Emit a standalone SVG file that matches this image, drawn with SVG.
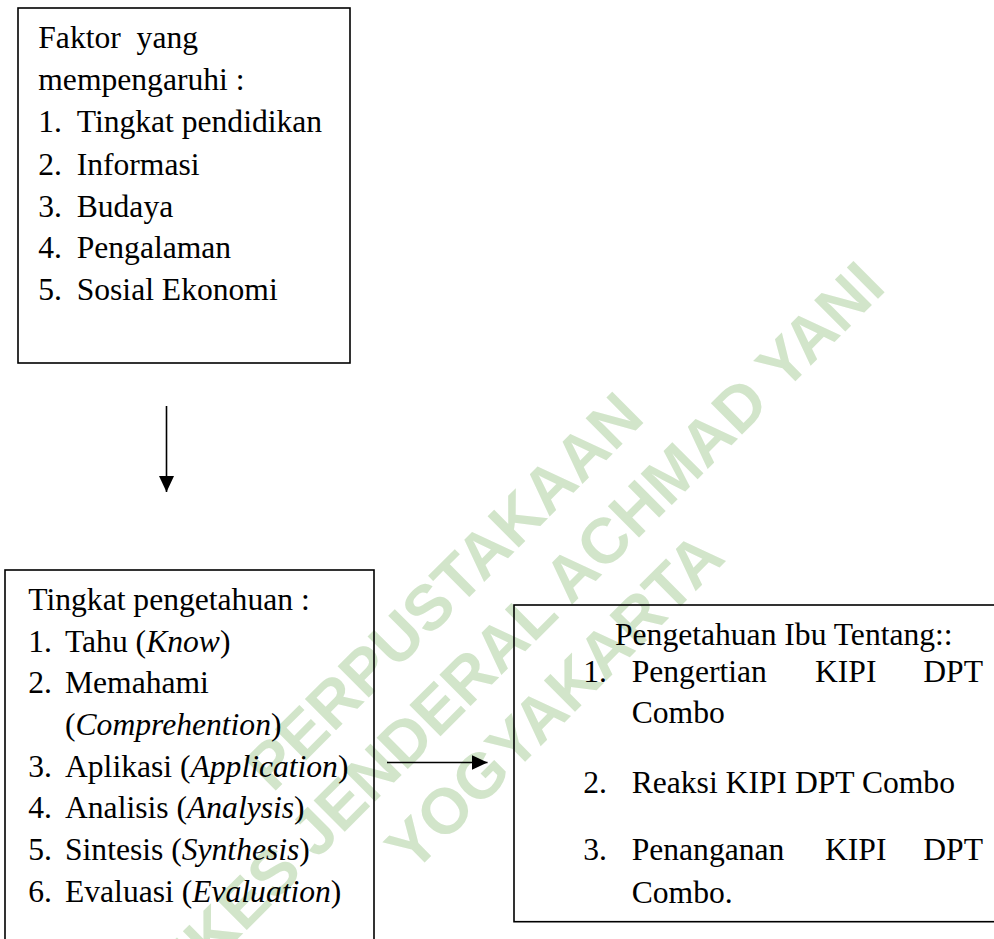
<svg xmlns="http://www.w3.org/2000/svg" width="994" height="939" viewBox="0 0 994 939">
<style>
.box{fill:none;stroke:#000;stroke-width:1.6}
.t{font-family:"Liberation Serif","Times New Roman",serif;font-size:31.6px;fill:#000}
.i{font-style:italic}
.wm{font-family:"Liberation Sans",Arial,sans-serif;font-weight:bold;font-size:64px;fill:#d2e5ca;text-anchor:middle}
.ln{stroke:#000;stroke-width:1.6;fill:none}
</style>
<defs>
<marker id="ah" viewBox="0 0 16 15" refX="16" refY="7.5" markerWidth="16" markerHeight="15" markerUnits="userSpaceOnUse" orient="auto">
<path d="M0,0 L16,7.5 L0,15 Z" fill="#000"/>
</marker>
</defs>
<rect width="994" height="939" fill="#fff"/>
<g id="watermark" transform="rotate(-45)">
<text class="wm" x="-104" y="754">PERPUSTAKAAN</text>
<text class="wm" x="-105" y="832">STIKES JENDERAL ACHMAD YANI</text>
<text class="wm" x="-104" y="910">YOGYAKARTA</text>
</g>
<g id="faktor">
<rect class="box" x="18" y="8" width="332" height="355"/>
<text class="t" x="38.3" y="48.3" xml:space="preserve">Faktor  yang</text>
<text class="t" x="38.3" y="90">mempengaruhi :</text>
<text class="t" x="38.3" y="131.7">1.</text><text class="t" x="76.7" y="131.7">Tingkat pendidikan</text>
<text class="t" x="38.3" y="175">2.</text><text class="t" x="76.7" y="175">Informasi</text>
<text class="t" x="38.3" y="216.7">3.</text><text class="t" x="76.7" y="216.7">Budaya</text>
<text class="t" x="38.3" y="258.3">4.</text><text class="t" x="76.7" y="258.3">Pengalaman</text>
<text class="t" x="38.3" y="300">5.</text><text class="t" x="76.7" y="300">Sosial Ekonomi</text>
</g>
<g id="tingkat">
<rect class="box" x="5" y="570" width="369" height="390"/>
<text class="t" x="28.3" y="610">Tingkat pengetahuan :</text>
<text class="t" x="28.3" y="651.7">1.</text><text class="t" x="65" y="651.7">Tahu (<tspan class="i">Know</tspan>)</text>
<text class="t" x="28.3" y="693.3">2.</text><text class="t" x="65" y="693.3">Memahami</text>
<text class="t" x="65" y="735">(<tspan class="i">Comprehention</tspan>)</text>
<text class="t" x="28.3" y="776.7">3.</text><text class="t" x="65" y="776.7">Aplikasi (<tspan class="i">Application</tspan>)</text>
<text class="t" x="28.3" y="818.3">4.</text><text class="t" x="65" y="818.3">Analisis (<tspan class="i">Analysis</tspan>)</text>
<text class="t" x="28.3" y="860">5.</text><text class="t" x="65" y="860">Sintesis (<tspan class="i">Synthesis</tspan>)</text>
<text class="t" x="28.3" y="901.7">6.</text><text class="t" x="65" y="901.7">Evaluasi (<tspan class="i">Evaluation</tspan>)</text>
</g>
<g id="pengetahuan-ibu">
<rect class="box" x="514" y="605" width="500" height="316.7"/>
<text class="t" x="615" y="645">Pengetahuan Ibu Tentang::</text>
<text class="t" x="583.3" y="681.7">1.</text>
<text class="t" x="631.7" y="681.7">Pengertian</text>
<text class="t" x="815" y="681.7">KIPI</text>
<text class="t" x="923.3" y="681.7">DPT</text>
<text class="t" x="631.7" y="723.3">Combo</text>
<text class="t" x="583.3" y="793.3">2.</text>
<text class="t" x="631.7" y="793.3">Reaksi KIPI DPT Combo</text>
<text class="t" x="583.3" y="860">3.</text>
<text class="t" x="631.7" y="860">Penanganan</text>
<text class="t" x="825" y="860">KIPI</text>
<text class="t" x="923.3" y="860">DPT</text>
<text class="t" x="631.7" y="903.3">Combo.</text>
</g>
<g id="connectors">
<line class="ln" x1="166.5" y1="406" x2="166.5" y2="492" marker-end="url(#ah)"/>
<line class="ln" x1="387" y1="762.5" x2="487.5" y2="762.5" marker-end="url(#ah)"/>
</g>
</svg>
